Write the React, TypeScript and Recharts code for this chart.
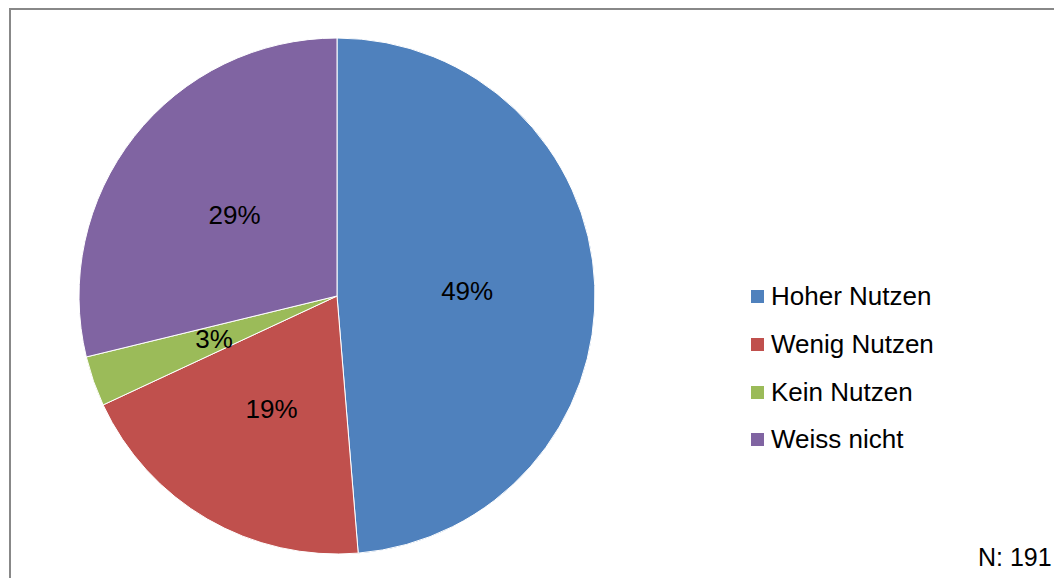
import { Cell, Legend, Pie, PieChart } from "recharts";

const categories = ["Hoher Nutzen", "Wenig Nutzen", "Kein Nutzen", "Weiss nicht"];
const counts = [93, 37, 6, 55];
const colors = ["#4F81BD", "#C0504D", "#9BBB59", "#8064A2"];
const sampleLabel = "N: 191";

const data = categories.map((name, i) => ({ name, value: counts[i] }));

const FONT = '"Liberation Sans", Arial, sans-serif';
const RADIAN = Math.PI / 180;

function renderLabel(props: any) {
  const { cx, cy, midAngle, outerRadius, percent } = props;
  const r = outerRadius * 0.505;
  const x = cx + r * Math.cos(-midAngle * RADIAN);
  const y = cy + r * Math.sin(-midAngle * RADIAN);
  return (
    <text
      x={x}
      y={y}
      fill="#000"
      textAnchor="middle"
      dominantBaseline="central"
      fontSize={26}
      fontFamily={FONT}
    >
      {`${Math.round(percent * 100)}%`}
    </text>
  );
}

function LegendList() {
  return (
    <div style={{ fontFamily: FONT, fontSize: 26, color: "#000" }}>
      {data.map((d, i) => (
        <div key={d.name} style={{ display: "flex", alignItems: "center", height: 47.7 }}>
          <span
            style={{
              display: "inline-block",
              width: 13,
              height: 13,
              background: colors[i],
              marginRight: 7,
            }}
          />
          <span>{d.name}</span>
        </div>
      ))}
    </div>
  );
}

export default function App() {
  return (
    <div style={{ position: "relative", width: 1054, height: 570, overflow: "hidden", background: "#fff" }}>
      <div
        style={{
          position: "absolute",
          left: 1,
          top: 0,
          width: 1100,
          height: 620,
          border: "2px solid #888",
          boxSizing: "border-box",
        }}
      />
      <PieChart
        width={1054}
        height={570}
        margin={{ top: 0, right: 0, bottom: 0, left: 0 }}
        style={{ position: "absolute", left: 0, top: 0 }}
      >
        <Pie
          data={data}
          dataKey="value"
          nameKey="name"
          cx={329}
          cy={288}
          outerRadius={258}
          startAngle={90}
          endAngle={-270}
          stroke="#fff"
          strokeWidth={1}
          label={renderLabel}
          labelLine={false}
          isAnimationActive={false}
        >
          {data.map((d, i) => (
            <Cell key={d.name} fill={colors[i]} />
          ))}
        </Pie>
        <Legend
          layout="vertical"
          content={() => <LegendList />}
          wrapperStyle={{ left: 743, top: 265, width: 290, bottom: "auto" }}
        />
      </PieChart>
      <div
        style={{
          position: "absolute",
          left: 970,
          top: 535,
          fontFamily: FONT,
          fontSize: 25,
          color: "#000",
        }}
      >
        {sampleLabel}
      </div>
    </div>
  );
}
